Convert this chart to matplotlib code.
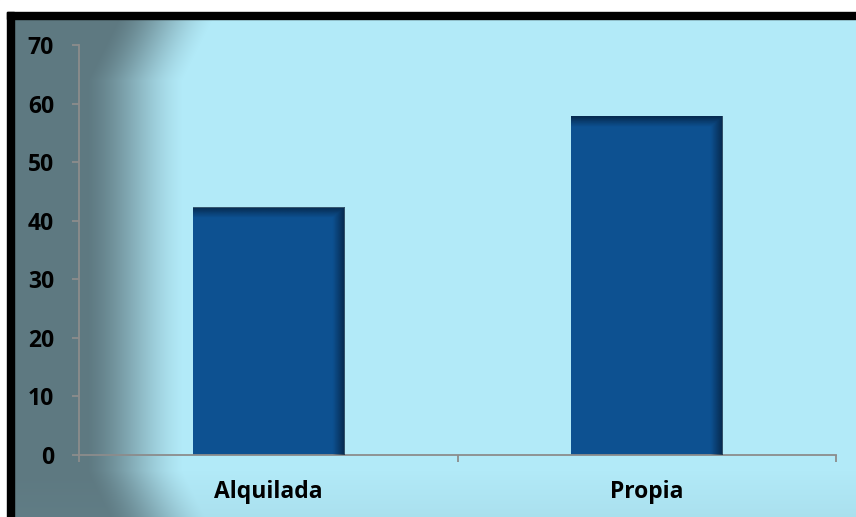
import numpy as np
import matplotlib
matplotlib.use('Agg')
import matplotlib.pyplot as plt
from matplotlib.patches import Rectangle

# data
categories = ['Alquilada', 'Propia']
values = [42.2, 57.8]
y_ticks = [0, 10, 20, 30, 40, 50, 60, 70]

W, H = 856, 517
fig = plt.figure(figsize=(W / 100, H / 100), dpi=100)

# background gradient (dark slate on the left -> light cyan)
xx, yy = np.meshgrid(np.arange(W), np.arange(H))
dark = np.array([94, 121, 129]) / 255
light = np.array([178, 234, 248]) / 255
dy = np.maximum(0, np.maximum(80 - yy, yy - 470))
d = 182 - xx + 0.5 * dy
t = 1 - np.clip(d / 95, 0, 1)
t = 0.5 * t + 0.5 * t * t * (3 - 2 * t)
bg = dark * (1 - t[..., None]) + light * t[..., None]
b = np.clip((yy - 470) / 47, 0, 1)[..., None] * 0.12
bg = bg * (1 - b) + np.array([0.45, 0.6, 0.65]) * b
bg_ax = fig.add_axes([0, 0, 1, 1])
bg_ax.imshow(bg, aspect='auto', extent=(0, W, H, 0))
bg_ax.set_xlim(0, W)
bg_ax.set_ylim(H, 0)
bg_ax.axis('off')
# white outside the frame, black frame
bg_ax.add_patch(Rectangle((0, 0), W, 12, color='white', zorder=3))
bg_ax.add_patch(Rectangle((0, 0), 7, H, color='white', zorder=3))
bg_ax.add_patch(Rectangle((7, 12), W, 7, color='black', zorder=4))
bg_ax.add_patch(Rectangle((7, 12), 7, H, color='black', zorder=4))

ax = fig.add_axes([79 / W, 62 / H, (836 - 79) / W, (455 - 45) / H])
ax.patch.set_alpha(0)

x = np.arange(len(categories))
bw = 0.4
bars = ax.bar(x, values, width=bw, color='#0d5191', zorder=2)

# darker shading along top and right edge of the bars
for rect in bars:
    x0 = rect.get_x()
    h = rect.get_height()
    ny, nx = 200, 200
    gx = np.linspace(0, 1, nx)
    gy = np.linspace(0, 1, ny)
    hpx = h * (455 - 45) / 70
    right = np.clip(1 - (1 - gx) * 152 / 12, 0, 1)
    top = np.clip(1 - (1 - gy) * hpx / 10, 0, 1)
    a = np.maximum(right[None, :] * 0.75, top[:, None] * 0.7)
    img = np.zeros((ny, nx, 4))
    img[..., 0] = 4 / 255
    img[..., 1] = 28 / 255
    img[..., 2] = 55 / 255
    img[..., 3] = a
    ax.imshow(img, extent=(x0, x0 + bw, 0, h), origin='lower', aspect='auto', zorder=3)

ax.set_xlim(-0.5, len(categories) - 0.5)
ax.set_ylim(0, 70)
ax.set_yticks(y_ticks)
ax.set_xticks(x)
ax.set_xticklabels(categories)
ax.set_xticks(np.arange(len(categories) + 1) - 0.5, minor=True)

for s in ['top', 'right']:
    ax.spines[s].set_visible(False)
for s in ['left', 'bottom']:
    ax.spines[s].set_color('#8c8c8c')
    ax.spines[s].set_linewidth(1.3)

ax.tick_params(axis='y', length=5, width=1.3, color='#8c8c8c', pad=13)
ax.tick_params(axis='x', which='major', length=0, pad=18)
ax.tick_params(axis='x', which='minor', length=5, width=1.3, color='#8c8c8c')
for lab in ax.get_xticklabels() + ax.get_yticklabels():
    lab.set_fontfamily('Open Sans')
    lab.set_fontweight('bold')
    lab.set_fontsize(16.5)
    lab.set_color('black')

fig.savefig('out.png', dpi=100)
